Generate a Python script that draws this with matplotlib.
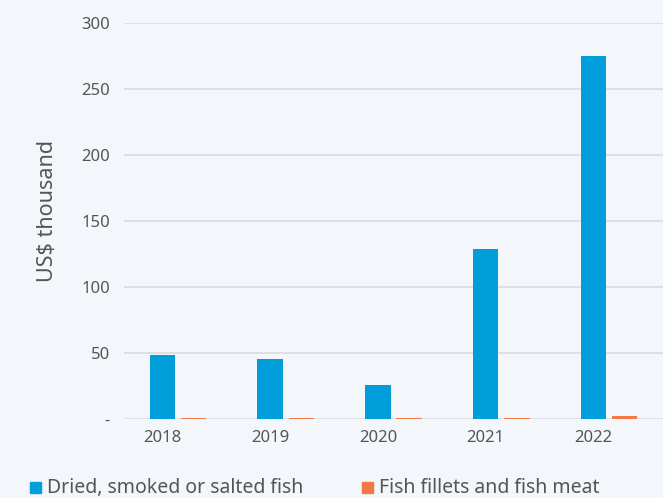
import matplotlib
matplotlib.use("Agg")
import matplotlib.pyplot as plt
from matplotlib.patches import Rectangle
import numpy as np

years = ["2018", "2019", "2020", "2021", "2022"]
dried_fish = [48.2, 45.0, 25.4, 128.6, 275.0]
fish_fillets = [0.4, 0.4, 0.4, 0.4, 1.8]
series_names = ["Dried, smoked or salted fish", "Fish fillets and fish meat"]
y_ticks = [0, 50, 100, 150, 200, 250, 300]
y_tick_labels = ["-", "50", "100", "150", "200", "250", "300"]

BG = "#f3f6fb"
BLUE = "#009edb"
ORANGE = "#f47a42"
TXT = "#555555"
GRID = "#d9dbe0"

plt.rcParams["font.family"] = ["Noto Sans", "DejaVu Sans"]

fig = plt.figure(figsize=(6.63, 4.98), dpi=100, facecolor=BG)
ax = fig.add_axes([124 / 663, 1 - 418.5 / 498, (663 - 124) / 663, (418.5 - 23) / 498])
ax.set_facecolor(BG)

x = np.arange(len(years))
w = 0.235
gap = 0.055
ax.bar(x, dried_fish, width=w, color=BLUE, zorder=3)
ax.bar(x + w + gap, fish_fillets, width=w, color=ORANGE, zorder=3)

ax.set_ylim(0, 300)
px = 107.8
ax.set_xlim(-(162.3 - 124) / px, 4 + (663 - 593.5) / px)
ax.set_yticks(y_ticks)
ax.set_yticklabels(y_tick_labels)
ax.set_xticks(x)
ax.set_xticklabels(years)
ax.grid(axis="y", color=GRID, linewidth=1.2, zorder=0)
for s in ax.spines.values():
    s.set_visible(False)
ax.tick_params(axis="both", length=0, labelsize=12, labelcolor=TXT)
ax.tick_params(axis="y", pad=10)
ax.tick_params(axis="x", pad=8)
ax.set_ylabel("US$ thousand", fontsize=15.5, color=TXT)
ax.yaxis.set_label_coords(-(124 - 58) / 539, (418.5 - 211) / 395.5)

# legend row along the bottom
for lx, name, col in [(30, series_names[0], BLUE), (362, series_names[1], ORANGE)]:
    fig.patches.append(Rectangle((lx / 663, 1 - 493 / 498), 11 / 663, 11 / 498,
                                 transform=fig.transFigure, color=col))
    fig.text((lx + 17) / 663, 1 - 487.5 / 498, name, fontsize=14, color=TXT,
             va="center", ha="left")

fig.savefig("out.png", dpi=100, facecolor=BG)
